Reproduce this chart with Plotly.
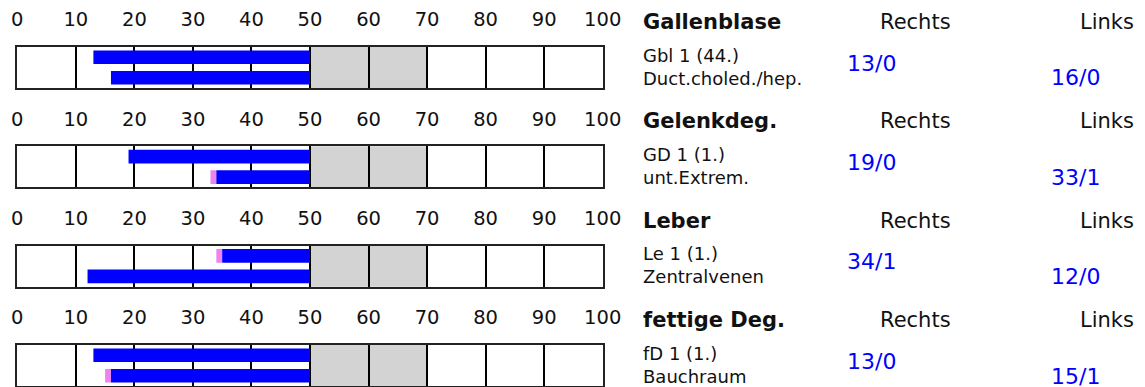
import plotly.graph_objects as go

# ---- data ----
titles = ["Gallenblase", "Gelenkdeg.", "Leber", "fettige Deg."]
sub_line1 = ["Gbl 1 (44.)", "GD 1 (1.)", "Le 1 (1.)", "fD 1 (1.)"]
sub_line2 = ["Duct.choled./hep.", "unt.Extrem.", "Zentralvenen", "Bauchraum"]
rechts_start = [13, 19, 34, 13]
rechts_extra = [0, 0, 1, 0]
links_start = [16, 33, 12, 15]
links_extra = [0, 1, 0, 1]
tick_vals = [0, 10, 20, 30, 40, 50, 60, 70, 80, 90, 100]
tick_text = ["0", "10", "20", "30", "40", "50", "60", "70", "80", "90", "100"]
center_value = 50
ref_band = (50, 70)
col_right = "Rechts"
col_left = "Links"

# ---- style / layout ----
W, H = 1145, 387
OFF = 8  # page body margin, compensated
FONT = "DejaVu Sans, Verdana, sans-serif"
BLUE = "#0000ff"
PINK = "#ee82ee"
GRAY = "#d3d3d3"
box_tops = [47, 146.3, 245.7, 345]
box_h = 41

def px(p):
    return (p - OFF) / W

def py(p):
    return 1 - (p - OFF) / H

x_dom = [px(17.3), px(602.7)]

fig = go.Figure()
layout = dict(
    template="none",
    width=W, height=H, margin=dict(l=0, r=0, t=0, b=0, pad=0, autoexpand=False),
    paper_bgcolor="white", plot_bgcolor="white", showlegend=False,
    barmode="overlay", font=dict(family=FONT, color="black"),
)
annotations = []
shapes = []

for i in range(4):
    n = "" if i == 0 else str(i + 1)
    xa, ya = "x" + n, "y" + n
    top = box_tops[i]
    layout["xaxis" + n] = dict(
        domain=x_dom, range=[0, 100], anchor=ya, side="top",
        tickmode="array", tickvals=tick_vals, ticktext=tick_text,
        tickfont=dict(size=19.5, family=FONT, color="#111"),
        ticks="outside", ticklen=11, tickcolor="rgba(0,0,0,0)",
        showgrid=True, gridcolor="black", gridwidth=1.6,
        showline=True, mirror=True, linecolor="#222", linewidth=1.8,
        zeroline=False, fixedrange=True, automargin=False,
    )
    layout["yaxis" + n] = dict(
        domain=[py(top + box_h), py(top)], range=[-0.5, 1.5], anchor=xa,
        showticklabels=False, showgrid=False, zeroline=False,
        showline=True, mirror=True, linecolor="#222", linewidth=1.8,
        fixedrange=True, automargin=False,
    )
    shapes.append(dict(
        type="rect", xref=xa, yref=ya + " domain",
        x0=ref_band[0], x1=ref_band[1], y0=0, y1=1,
        fillcolor=GRAY, line=dict(width=0), layer="below",
    ))
    starts = [rechts_start[i], links_start[i]]
    extras = [rechts_extra[i], links_extra[i]]
    fig.add_trace(go.Bar(
        orientation="h", y=[1, 0], base=starts, x=extras, width=0.67,
        marker=dict(color=PINK, line=dict(width=0)), xaxis=xa, yaxis=ya,
        hoverinfo="skip",
    ))
    fig.add_trace(go.Bar(
        orientation="h", y=[1, 0],
        base=[s + e for s, e in zip(starts, extras)],
        x=[center_value - (s + e) for s, e in zip(starts, extras)],
        width=0.67, marker=dict(color=BLUE, line=dict(width=0)),
        xaxis=xa, yaxis=ya, hoverinfo="skip",
    ))

    # right side text
    annotations += [
        dict(text="<b>" + titles[i] + "</b>", x=px(641), y=py(top - 25),
             xanchor="left", yanchor="middle", font=dict(size=21, color="#111")),
        dict(text=col_right, x=px(915), y=py(top - 25),
             xanchor="center", yanchor="middle", font=dict(size=21, color="#111")),
        dict(text=col_left, x=px(1136), y=py(top - 25),
             xanchor="right", yanchor="middle", font=dict(size=21, color="#111")),
        dict(text=sub_line1[i] + "<br>" + sub_line2[i], x=px(641), y=py(top + 19.5),
             xanchor="left", yanchor="middle", align="left",
             font=dict(size=18, color="#111")),
        dict(text=f"{rechts_start[i]}/{rechts_extra[i]}", x=px(871), y=py(top + 16),
             xanchor="center", yanchor="middle", font=dict(size=22, color=BLUE)),
        dict(text=f"{links_start[i]}/{links_extra[i]}", x=px(1075), y=py(top + 31),
             xanchor="center", yanchor="middle", font=dict(size=22, color=BLUE)),
    ]

for a in annotations:
    a.update(xref="paper", yref="paper", showarrow=False)
    a["font"]["family"] = FONT
layout["annotations"] = annotations
layout["shapes"] = shapes
fig.update_layout(**layout)
fig.write_html("out.html")
